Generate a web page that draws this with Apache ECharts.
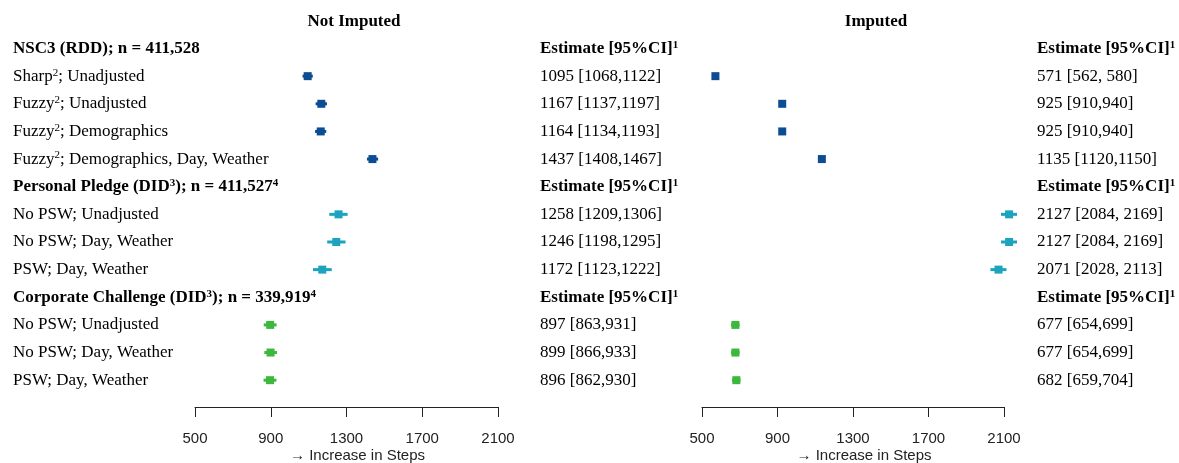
<!DOCTYPE html>
<html>
<head>
<meta charset="utf-8">
<title>Forest plot: increase in steps</title>
<script src="https://cdn.jsdelivr.net/npm/echarts@6/dist/echarts.min.js"></script>
<style>
  html, body { margin: 0; padding: 0; background: #ffffff; }
  #chart { width: 1179px; height: 463px; }
</style>
</head>
<body>
<div id="chart"></div>
<script>
// Row labels, top to bottom (group headers included); ^n marks a footnote superscript
const rowLabels = [
  'NSC3 (RDD); n = 411,528',
  'Sharp^2; Unadjusted',
  'Fuzzy^2; Unadjusted',
  'Fuzzy^2; Demographics',
  'Fuzzy^2; Demographics, Day, Weather',
  'Personal Pledge (DID^3); n = 411,527^4',
  'No PSW; Unadjusted',
  'No PSW; Day, Weather',
  'PSW; Day, Weather',
  'Corporate Challenge (DID^3); n = 339,919^4',
  'No PSW; Unadjusted',
  'No PSW; Day, Weather',
  'PSW; Day, Weather'
];
const headerRows = [0, 5, 9];
const estimateHeader = 'Estimate [95%CI]^1';

// Group of each row (0 = NSC3, 1 = Personal Pledge, 2 = Corporate Challenge)
const rowGroup = [0, 0, 0, 0, 0, 1, 1, 1, 1, 2, 2, 2, 2];
const groupColors = ['#0b4c92', '#1ca4bf', '#3cb93c'];

// Not imputed: estimate and 95% CI (null for header rows)
const notImpEst = [null, 1095, 1167, 1164, 1437, null, 1258, 1246, 1172, null, 897, 899, 896];
const notImpLo  = [null, 1068, 1137, 1134, 1408, null, 1209, 1198, 1123, null, 863, 866, 862];
const notImpHi  = [null, 1122, 1197, 1193, 1467, null, 1306, 1295, 1222, null, 931, 933, 930];

// Imputed: estimate and 95% CI
const impEst = [null, 571, 925, 925, 1135, null, 2127, 2127, 2071, null, 677, 677, 682];
const impLo  = [null, 562, 910, 910, 1120, null, 2084, 2084, 2028, null, 654, 654, 659];
const impHi  = [null, 580, 940, 940, 1150, null, 2169, 2169, 2113, null, 699, 699, 704];
// CI written with a space after the comma
const impSpaced = [false, true, false, false, false, false, true, true, true, false, false, false, false];

// x axis ticks
const xMin = 500, xMax = 2100, xStep = 400;

const serif = 'Liberation Serif';
const sans = 'Liberation Sans';
const rowIds = rowLabels.map((_, i) => String(i));

function ciText(est, lo, hi, spaced) {
  return est + ' [' + lo + ',' + (spaced ? ' ' : '') + hi + ']';
}

// Turn "text^2 more" into rich-text tokens, with the digit after ^ as a superscript
function richText(text, bold) {
  const main = bold ? 'b' : 'n';
  const sup = bold ? 'bs' : 'ns';
  return text.split(/(\^\d)/).filter(p => p.length).map(p =>
    p[0] === '^' ? '{' + sup + '|' + p.slice(1) + '}' : '{' + main + '|' + p + '}'
  ).join('');
}

function seriesData(est, lo, hi) {
  const out = [];
  est.forEach((v, i) => {
    if (v !== null) out.push([i, lo[i], v, hi[i]]);
  });
  return out;
}

// Whisker for the CI plus a square at the estimate
function makeRender(est) {
  const colors = [];
  est.forEach((v, i) => { if (v !== null) colors.push(groupColors[rowGroup[i]]); });
  return function (params, api) {
    const row = api.value(0);
    const pLo = api.coord([api.value(1), row]);
    const pHi = api.coord([api.value(3), row]);
    const pC = api.coord([api.value(2), row]);
    const color = colors[params.dataIndex];
    const s = 8;
    return {
      type: 'group',
      children: [
        { type: 'line', shape: { x1: pLo[0], y1: pLo[1], x2: pHi[0], y2: pHi[1] },
          style: { stroke: color, lineWidth: 3 } },
        { type: 'rect', shape: { x: pC[0] - s / 2, y: pC[1] - s / 2, width: s, height: s },
          style: { fill: color } }
      ]
    };
  };
}

const gridTop = 34.7, gridHeight = 359.3;

function xAxisFor(gridIndex) {
  return {
    type: 'value', gridIndex, min: xMin, max: xMax, interval: xStep,
    position: 'bottom', offset: 13,
    axisLine: { show: true, lineStyle: { color: '#222', width: 1 } },
    axisTick: { show: true, length: 10, lineStyle: { color: '#222', width: 1 } },
    axisLabel: { margin: 24, color: '#222', fontFamily: sans, fontSize: 15,
                 formatter: (v) => String(v) },
    splitLine: { show: false },
    name: '→ Increase in Steps', nameLocation: 'middle', nameGap: 41, nameMoveOverlap: false,
    nameTextStyle: { fontFamily: sans, fontSize: 15, color: '#222', padding: [0, 0, 0, 22] }
  };
}

const rich = {
  b: { fontFamily: serif, fontSize: 17, fontWeight: 'bold', color: '#000', lineHeight: 18 },
  n: { fontFamily: serif, fontSize: 17, color: '#000', lineHeight: 18 },
  bs: { fontFamily: serif, fontSize: 11, fontWeight: 'bold', color: '#000', verticalAlign: 'top', lineHeight: 11 },
  ns: { fontFamily: serif, fontSize: 11, color: '#000', verticalAlign: 'top', lineHeight: 11 }
};

function hiddenY(gridIndex, position) {
  return {
    type: 'category', gridIndex, data: rowIds, inverse: true, position,
    axisLine: { show: false }, axisTick: { show: false }, splitLine: { show: false }
  };
}

const chart = echarts.init(document.getElementById('chart'), null, { renderer: 'canvas' });

chart.setOption({
  backgroundColor: '#ffffff',
  animation: false,
  grid: [
    { left: 195, width: 303, top: gridTop, height: gridHeight, outerBoundsMode: 'none', containLabel: false },
    { left: 702, width: 302, top: gridTop, height: gridHeight, outerBoundsMode: 'none', containLabel: false }
  ],
  xAxis: [xAxisFor(0), xAxisFor(1)],
  yAxis: [
    Object.assign(hiddenY(0, 'left'), {
      axisLabel: {
        interval: 0, align: 'left', margin: 182, rich,
        formatter: (v) => {
          const i = Number(v);
          return richText(rowLabels[i], headerRows.includes(i));
        }
      }
    }),
    Object.assign(hiddenY(0, 'right'), {
      axisLabel: {
        interval: 0, align: 'left', margin: 42, rich,
        formatter: (v) => {
          const i = Number(v);
          return headerRows.includes(i) ? richText(estimateHeader, true)
            : richText(ciText(notImpEst[i], notImpLo[i], notImpHi[i], false), false);
        }
      }
    }),
    Object.assign(hiddenY(1, 'left'), { axisLabel: { show: false } }),
    Object.assign(hiddenY(1, 'right'), {
      axisLabel: {
        interval: 0, align: 'left', margin: 33, rich,
        formatter: (v) => {
          const i = Number(v);
          return headerRows.includes(i) ? richText(estimateHeader, true)
            : richText(ciText(impEst[i], impLo[i], impHi[i], impSpaced[i]), false);
        }
      }
    })
  ],
  graphic: [
    { type: 'text', x: 354, y: 22,
      style: { text: 'Not Imputed', align: 'center', verticalAlign: 'middle',
               font: 'bold 17px "Liberation Serif"', fill: '#000' } },
    { type: 'text', x: 876, y: 22,
      style: { text: 'Imputed', align: 'center', verticalAlign: 'middle',
               font: 'bold 17px "Liberation Serif"', fill: '#000' } }
  ],
  series: [
    { type: 'custom', xAxisIndex: 0, yAxisIndex: 0, clip: false,
      encode: { x: [1, 2, 3], y: 0 },
      data: seriesData(notImpEst, notImpLo, notImpHi),
      renderItem: makeRender(notImpEst) },
    { type: 'custom', xAxisIndex: 1, yAxisIndex: 2, clip: false,
      encode: { x: [1, 2, 3], y: 0 },
      data: seriesData(impEst, impLo, impHi),
      renderItem: makeRender(impEst) }
  ]
});
</script>
</body>
</html>
